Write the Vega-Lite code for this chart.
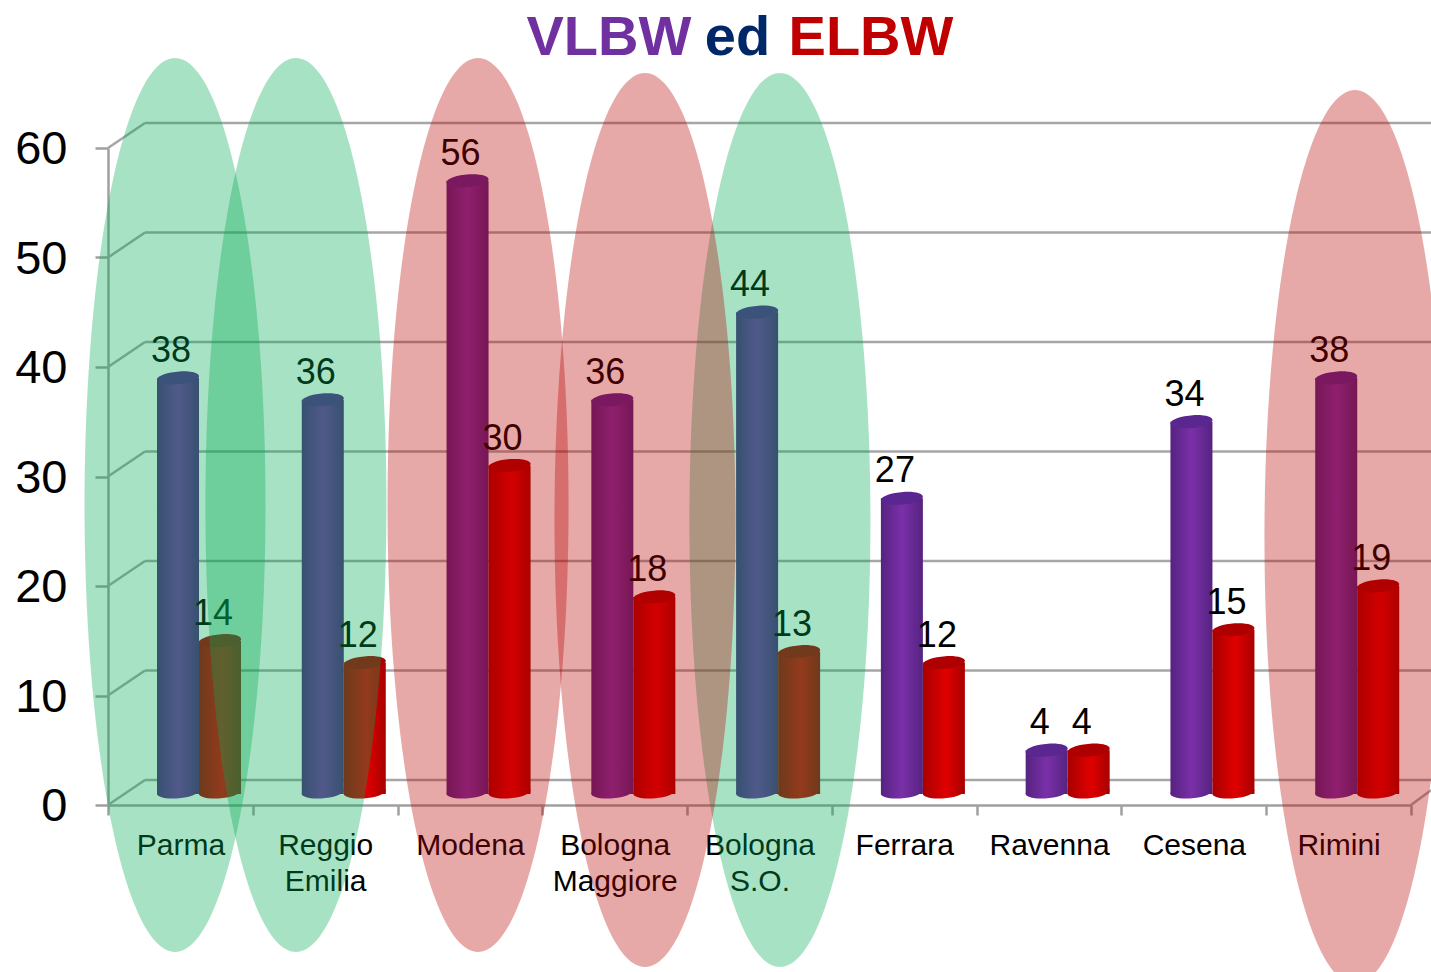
{"$schema":"https://vega.github.io/schema/vega-lite/v6.json","width":1303,"height":657,"autosize":{"type":"none"},"padding":{"left":108,"top":148,"right":20,"bottom":167},"background":"white","view":{"stroke":null},"usermeta":{"embedOptions":{"actions":false}},"datasets":{"bars":[{"city":"Parma","series":"VLBW","value":38},{"city":"Parma","series":"ELBW","value":14},{"city":"Reggio|Emilia","series":"VLBW","value":36},{"city":"Reggio|Emilia","series":"ELBW","value":12},{"city":"Modena","series":"VLBW","value":56},{"city":"Modena","series":"ELBW","value":30},{"city":"Bologna|Maggiore","series":"VLBW","value":36},{"city":"Bologna|Maggiore","series":"ELBW","value":18},{"city":"Bologna|S.O.","series":"VLBW","value":44},{"city":"Bologna|S.O.","series":"ELBW","value":13},{"city":"Ferrara","series":"VLBW","value":27},{"city":"Ferrara","series":"ELBW","value":12},{"city":"Ravenna","series":"VLBW","value":4},{"city":"Ravenna","series":"ELBW","value":4},{"city":"Cesena","series":"VLBW","value":34},{"city":"Cesena","series":"ELBW","value":15},{"city":"Rimini","series":"VLBW","value":38},{"city":"Rimini","series":"ELBW","value":19}],"grid":[{"v":0},{"v":10},{"v":20},{"v":30},{"v":40},{"v":50},{"v":60}],"diagonals":[{"id":"0","px":0,"py":0},{"id":"0","px":0.2556,"py":2.28},{"id":"10","px":0,"py":10},{"id":"10","px":0.2556,"py":12.28},{"id":"20","px":0,"py":20},{"id":"20","px":0.2556,"py":22.28},{"id":"30","px":0,"py":30},{"id":"30","px":0.2556,"py":32.28},{"id":"40","px":0,"py":40},{"id":"40","px":0.2556,"py":42.28},{"id":"50","px":0,"py":50},{"id":"50","px":0.2556,"py":52.28},{"id":"60","px":0,"py":60},{"id":"60","px":0.2556,"py":62.28},{"id":"floor","px":9,"py":0},{"id":"floor","px":9.14,"py":1.37}],"ellipses":[{"name":"Parma","kind":"green","cx":0.463,"cy":27.4},{"name":"Reggio Emilia","kind":"green","cx":1.298,"cy":27.4},{"name":"Bologna S.O.","kind":"green","cx":4.641,"cy":26.03},{"name":"Modena","kind":"red","cx":2.556,"cy":27.4},{"name":"Bologna Maggiore","kind":"red","cx":3.709,"cy":26.03},{"name":"Rimini","kind":"red","cx":8.613,"cy":24.47}],"title":[{"word":"VLBW","color":"#7030A0","tx":3.46,"ty":70.05},{"word":"ed","color":"#002868","tx":4.348,"ty":70.05},{"word":"ELBW","color":"#C00000","tx":5.27,"ty":70.05}]},"resolve":{"scale":{"x":"independent","xOffset":"independent","color":"independent"},"axis":{"x":"independent"}},"layer":[{"data":{"name":"grid"},"mark":{"type":"rule","stroke":"#a6a6a6","strokeWidth":2.5,"yOffset":-25},"encoding":{"x":{"datum":0.2556,"type":"quantitative","scale":{"domain":[0,9],"nice":false,"zero":false},"axis":null},"x2":{"datum":9.14},"y":{"field":"v","type":"quantitative","scale":{"domain":[0,60],"nice":false},"axis":{"title":null,"values":[0,10,20,30,40,50,60],"grid":false,"tickSize":13,"tickWidth":2.5,"tickColor":"#a0a0a0","domainColor":"#a0a0a0","domainWidth":2.5,"labelFont":"Liberation Sans","labelFontSize":47,"labelColor":"#000000","labelPadding":28,"labelOffset":1.5,"labelBound":false,"labelFlush":false,"labelOverlap":false}}}},{"data":{"name":"diagonals"},"mark":{"type":"line","stroke":"#a6a6a6","strokeWidth":2.5},"encoding":{"x":{"field":"px","type":"quantitative","scale":{"domain":[0,9],"nice":false,"zero":false},"axis":null},"y":{"field":"py","type":"quantitative"},"detail":{"field":"id"}}},{"data":{"name":"bars"},"transform":[{"filter":"datum.series==='VLBW'"}],"mark":{"type":"bar","yOffset":-11,"y2Offset":-13,"color":{"x1":0,"y1":0,"x2":1,"y2":0,"gradient":"linear","stops":[{"offset":0,"color":"#552380"},{"offset":0.5,"color":"#7A30A8"},{"offset":1,"color":"#552380"}]}},"encoding":{"x":{"field":"city","type":"nominal","sort":null,"scale":{"domain":["Parma","Reggio|Emilia","Modena","Bologna|Maggiore","Bologna|S.O.","Ferrara","Ravenna","Cesena","Rimini"],"paddingInner":0,"paddingOuter":0},"axis":{"title":null,"tickBand":"extent","labelAngle":0,"tickSize":10,"tickWidth":2.5,"tickColor":"#a0a0a0","domainColor":"#a0a0a0","domainWidth":2.5,"labelFont":"Liberation Sans","labelFontSize":30,"labelColor":"#000000","labelPadding":15,"labelLineHeight":36,"labelBound":false,"labelOverlap":false,"labelExpr":"split(datum.label,'|')"}},"xOffset":{"field":"series","type":"nominal","scale":{"domain":["VLBW","ELBW"],"range":[49,133],"paddingInner":0,"paddingOuter":0}},"y":{"field":"value","type":"quantitative"}}},{"data":{"name":"bars"},"transform":[{"filter":"datum.series==='ELBW'"}],"mark":{"type":"bar","yOffset":-11,"y2Offset":-13,"color":{"x1":0,"y1":0,"x2":1,"y2":0,"gradient":"linear","stops":[{"offset":0,"color":"#A80000"},{"offset":0.55,"color":"#E00000"},{"offset":1,"color":"#A80000"}]}},"encoding":{"x":{"field":"city","type":"nominal","sort":null,"scale":{"domain":["Parma","Reggio|Emilia","Modena","Bologna|Maggiore","Bologna|S.O.","Ferrara","Ravenna","Cesena","Rimini"],"paddingInner":0,"paddingOuter":0},"axis":null},"xOffset":{"field":"series","type":"nominal","scale":{"domain":["VLBW","ELBW"],"range":[49,133],"paddingInner":0,"paddingOuter":0}},"y":{"field":"value","type":"quantitative"}}},{"data":{"name":"bars"},"transform":[{"filter":"datum.series==='VLBW'"}],"mark":{"type":"point","filled":true,"opacity":1,"size":1764,"shape":"M-1,0.06 A1,0.3 -5 1,0 1,-0.06 A1,0.3 -5 1,0 -1,0.06 Z","yOffset":-13,"color":{"x1":0,"y1":0,"x2":1,"y2":0,"gradient":"linear","stops":[{"offset":0,"color":"#552380"},{"offset":0.5,"color":"#7A30A8"},{"offset":1,"color":"#552380"}]}},"encoding":{"x":{"field":"city","type":"nominal","sort":null,"scale":{"domain":["Parma","Reggio|Emilia","Modena","Bologna|Maggiore","Bologna|S.O.","Ferrara","Ravenna","Cesena","Rimini"],"paddingInner":0,"paddingOuter":0},"axis":null},"xOffset":{"field":"series","type":"nominal","scale":{"domain":["VLBW","ELBW"],"range":[70,112],"padding":0}},"y":{"datum":0,"type":"quantitative"}}},{"data":{"name":"bars"},"transform":[{"filter":"datum.series==='ELBW'"}],"mark":{"type":"point","filled":true,"opacity":1,"size":1764,"shape":"M-1,0.06 A1,0.3 -5 1,0 1,-0.06 A1,0.3 -5 1,0 -1,0.06 Z","yOffset":-13,"color":{"x1":0,"y1":0,"x2":1,"y2":0,"gradient":"linear","stops":[{"offset":0,"color":"#A80000"},{"offset":0.55,"color":"#E00000"},{"offset":1,"color":"#A80000"}]}},"encoding":{"x":{"field":"city","type":"nominal","sort":null,"scale":{"domain":["Parma","Reggio|Emilia","Modena","Bologna|Maggiore","Bologna|S.O.","Ferrara","Ravenna","Cesena","Rimini"],"paddingInner":0,"paddingOuter":0},"axis":null},"xOffset":{"field":"series","type":"nominal","scale":{"domain":["VLBW","ELBW"],"range":[70,112],"padding":0}},"y":{"datum":0,"type":"quantitative"}}},{"data":{"name":"bars"},"mark":{"type":"point","filled":true,"opacity":1,"size":1764,"shape":"M-1,0.06 A1,0.3 -5 1,0 1,-0.06 A1,0.3 -5 1,0 -1,0.06 Z","yOffset":-11},"encoding":{"x":{"field":"city","type":"nominal","sort":null,"scale":{"domain":["Parma","Reggio|Emilia","Modena","Bologna|Maggiore","Bologna|S.O.","Ferrara","Ravenna","Cesena","Rimini"],"paddingInner":0,"paddingOuter":0},"axis":null},"xOffset":{"field":"series","type":"nominal","scale":{"domain":["VLBW","ELBW"],"range":[70,112],"padding":0}},"y":{"field":"value","type":"quantitative"},"color":{"field":"series","type":"nominal","legend":null,"scale":{"domain":["VLBW","ELBW"],"range":["#5A2690","#AE0000"]}}}},{"data":{"name":"bars"},"mark":{"type":"text","font":"Liberation Sans","fontSize":36,"color":"#000000","baseline":"middle","dx":-7,"dy":-38},"encoding":{"x":{"field":"city","type":"nominal","sort":null,"scale":{"domain":["Parma","Reggio|Emilia","Modena","Bologna|Maggiore","Bologna|S.O.","Ferrara","Ravenna","Cesena","Rimini"],"paddingInner":0,"paddingOuter":0},"axis":null},"xOffset":{"field":"series","type":"nominal","scale":{"domain":["VLBW","ELBW"],"range":[70,112],"padding":0}},"y":{"field":"value","type":"quantitative"},"text":{"field":"value","type":"quantitative"}}},{"data":{"name":"ellipses"},"mark":{"type":"point","filled":true,"size":799236,"shape":"M-0.2025,0 A0.2025,1 0 1,0 0.2025,0 A0.2025,1 0 1,0 -0.2025,0 Z","opacity":0.34},"encoding":{"x":{"field":"cx","type":"quantitative","scale":{"domain":[0,9],"nice":false,"zero":false},"axis":null},"y":{"field":"cy","type":"quantitative"},"color":{"field":"kind","type":"nominal","legend":null,"scale":{"domain":["green","red"],"range":["#00AA51","#B90000"]}}}},{"data":{"name":"title"},"mark":{"type":"text","font":"Liberation Sans","fontWeight":"bold","fontSize":56,"baseline":"middle"},"encoding":{"x":{"field":"tx","type":"quantitative","scale":{"domain":[0,9],"nice":false,"zero":false},"axis":null},"y":{"field":"ty","type":"quantitative"},"text":{"field":"word"},"color":{"field":"color","type":"nominal","scale":null,"legend":null}}}]}
